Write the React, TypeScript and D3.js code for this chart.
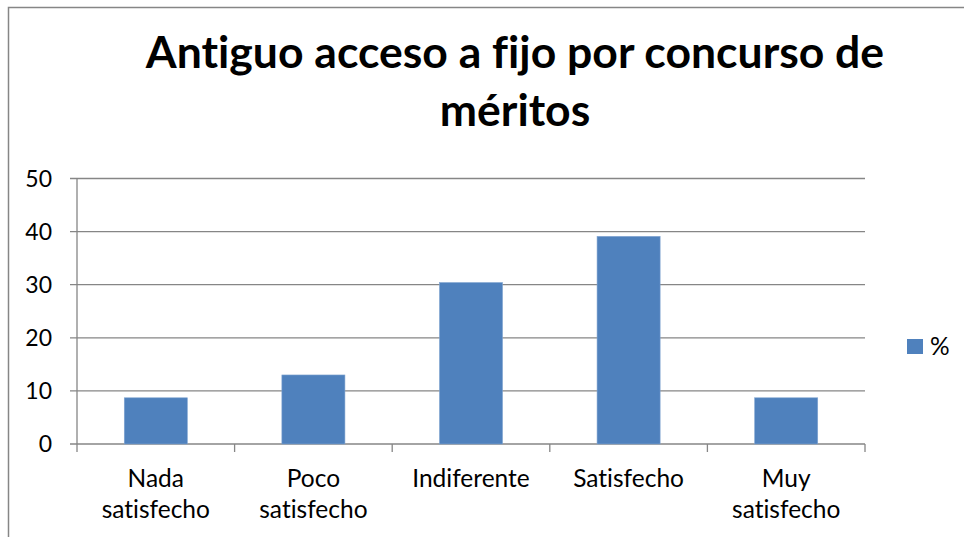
import React from "react";
import * as d3 from "d3";

const categories = ["Nada|satisfecho", "Poco|satisfecho", "Indiferente", "Satisfecho", "Muy|satisfecho"];
const values = [8.7, 13.0, 30.4, 39.1, 8.7];
const yTicks = [0, 10, 20, 30, 40, 50];
const titleLines = ["Antiguo acceso a fijo por concurso de", "méritos"];
const seriesName = "%";

const W = 964;
const H = 537;
const FONT = "Lato, 'Open Sans', sans-serif";

export default function App() {
  const left = 77, right = 865, top = 178.5, bottom = 444;
  const x = d3.scaleBand<string>().domain(categories).range([left, right]).paddingInner(0.6).paddingOuter(0.3);
  const y = d3.scaleLinear().domain([0, 50]).range([bottom, top]);
  const step = x.step();
  const boundaries = d3.range(categories.length + 1).map((i) => left + i * step);
  const grey = "#868686";
  const noLig = { fontVariantLigatures: "none" as const };
  return (
    <svg width={W} height={H} style={{ position: "absolute", left: 0, top: 0, background: "#fff" }}>
      <rect x={8.5} y={7.5} width={970} height={560} fill="#fff" stroke={grey} strokeWidth={1.5} />
      {titleLines.map((t, i) => (
        <text key={i} x={515} y={68 + i * 58} textAnchor="middle" fontFamily={FONT} fontWeight="bold" fontSize={44.5} fill="#000" style={noLig}>
          {t}
        </text>
      ))}
      {yTicks.map((t) => (
        <g key={t}>
          <line x1={70} x2={right} y1={y(t)} y2={y(t)} stroke={grey} strokeWidth={1.3} />
          <text x={52} y={y(t) + 8} textAnchor="end" fontFamily={FONT} fontSize={23} fill="#000">{t}</text>
        </g>
      ))}
      <line x1={left} x2={left} y1={top} y2={bottom} stroke={grey} strokeWidth={1.3} />
      {boundaries.map((b, i) => (
        <line key={i} x1={b} x2={b} y1={bottom} y2={bottom + 8} stroke={grey} strokeWidth={1.3} />
      ))}
      {categories.map((c, i) => (
        <rect key={c} x={x(c)} y={y(values[i])} width={x.bandwidth()} height={bottom - y(values[i])} fill="#4F81BD" stroke="#7FA3D0" strokeWidth={0.6} />
      ))}
      {categories.map((c) => {
        const lines = c.split("|");
        const cx = (x(c) as number) + x.bandwidth() / 2;
        return (
          <text key={c} textAnchor="middle" fontFamily={FONT} fontSize={24.5} fill="#000" style={noLig}>
            {lines.map((l, j) => (
              <tspan key={j} x={cx} y={487 + j * 31}>{l}</tspan>
            ))}
          </text>
        );
      })}
      <rect x={907} y={339} width={16} height={15} fill="#4F81BD" />
      <text x={930} y={355} fontFamily={FONT} fontSize={24.5} fill="#000">{seriesName}</text>
    </svg>
  );
}
